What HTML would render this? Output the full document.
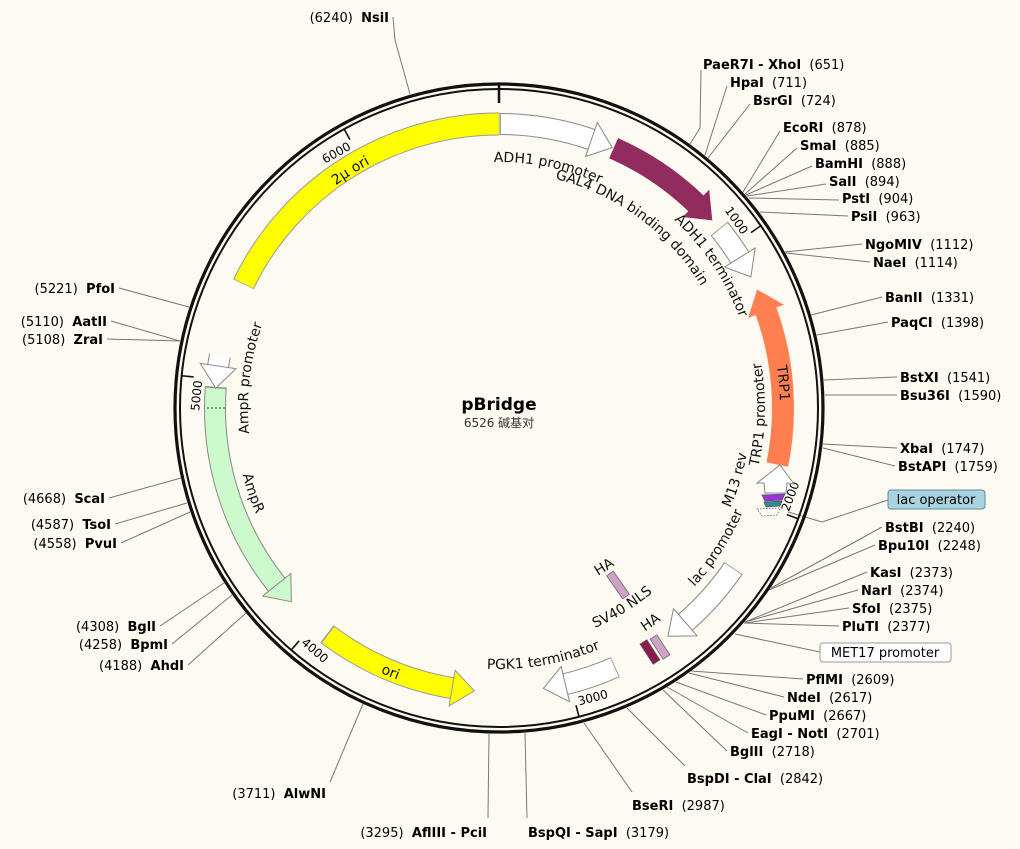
<!DOCTYPE html>
<html><head><meta charset="utf-8"><style>
html,body{margin:0;padding:0;background:#fcfaf1;}
svg{display:block;font-family:"DejaVu Sans","Liberation Sans","Noto Sans CJK SC",sans-serif;}
.lb{font-size:13px;fill:#000;}
.ln{stroke:#777;stroke-width:1;fill:none;}
.ft{font-size:14px;fill:#111;}
.tk{font-size:12px;fill:#000;}
</style></head><body>
<svg width="1020" height="849" viewBox="0 0 1020 849" xmlns="http://www.w3.org/2000/svg">
<defs>
<path id="cw276" d="M499,684 A276,276 0 1 1 499,132 A276,276 0 1 1 499,684"/>
<path id="cw246" d="M499,654 A246,246 0 1 1 499,162 A246,246 0 1 1 499,654"/>
<path id="cw236" d="M499,644 A236,236 0 1 1 499,172 A236,236 0 1 1 499,644"/>
<path id="cw257" d="M499,665 A257,257 0 1 1 499,151 A257,257 0 1 1 499,665"/>
<path id="cw281" d="M499,689 A281,281 0 1 1 499,127 A281,281 0 1 1 499,689"/>
<path id="cw251" d="M499,659 A251,251 0 1 1 499,157 A251,251 0 1 1 499,659"/>
<path id="ccw266" d="M499,142 A266,266 0 1 0 499,674 A266,266 0 1 0 499,142"/>
<path id="ccw252" d="M499,156 A252,252 0 1 0 499,660 A252,252 0 1 0 499,156"/>
<path id="ccw265" d="M499,143 A265,265 0 1 0 499,673 A265,265 0 1 0 499,143"/>
<path id="ccw195" d="M499,213 A195,195 0 1 0 499,603 A195,195 0 1 0 499,213"/>
<path id="ccw240" d="M499,168 A240,240 0 1 0 499,648 A240,240 0 1 0 499,168"/>
<path id="ccw267" d="M499,141 A267,267 0 1 0 499,675 A267,267 0 1 0 499,141"/>
<path id="ccw261" d="M499,147 A261,261 0 1 0 499,669 A261,261 0 1 0 499,147"/>
<path id="ccw290" d="M499,118 A290,290 0 1 0 499,698 A290,290 0 1 0 499,118"/>
</defs>

<g class="ln">
<polyline points="690,144 700,128 701,70"/>
<line x1="705" y1="155" x2="727" y2="86"/>
<line x1="708" y1="158" x2="750" y2="104"/>
<line x1="743" y1="192" x2="780" y2="131"/>
<line x1="745" y1="194" x2="797" y2="148"/>
<line x1="746" y1="195" x2="812" y2="166"/>
<line x1="747" y1="196" x2="826" y2="184"/>
<line x1="749" y1="198" x2="839" y2="200"/>
<line x1="760" y1="212" x2="848" y2="216"/>
<line x1="785" y1="252" x2="862" y2="244"/>
<line x1="786" y1="253" x2="870" y2="262"/>
<line x1="811" y1="315" x2="882" y2="297"/>
<line x1="817" y1="335" x2="888" y2="322"/>
<line x1="824" y1="380" x2="897" y2="377"/>
<line x1="825" y1="395" x2="897" y2="395"/>
<line x1="823" y1="444" x2="897" y2="448"/>
<line x1="823" y1="448" x2="895" y2="466"/>
<polyline points="788,512 822,522 888,500"/>
<line x1="771" y1="588" x2="882" y2="527"/>
<line x1="769" y1="590" x2="875" y2="545"/>
<line x1="745" y1="622" x2="867" y2="572"/>
<line x1="745" y1="622" x2="858" y2="590"/>
<line x1="745" y1="623" x2="849" y2="608"/>
<line x1="744" y1="623" x2="839" y2="626"/>
<line x1="735" y1="634" x2="820" y2="652"/>
<line x1="691" y1="671" x2="803" y2="679"/>
<line x1="689" y1="673" x2="784" y2="697"/>
<line x1="676" y1="682" x2="766" y2="715"/>
<line x1="667" y1="687" x2="748" y2="733"/>
<line x1="663" y1="690" x2="727" y2="751"/>
<line x1="627" y1="708" x2="685" y2="766"/>
<line x1="584" y1="723" x2="632" y2="792"/>
<line x1="525" y1="733" x2="527" y2="818"/>
<line x1="489" y1="734" x2="488" y2="818"/>
<line x1="363" y1="704" x2="330" y2="782"/>
<line x1="246" y1="613" x2="188" y2="665"/>
<line x1="232" y1="595" x2="172" y2="644"/>
<line x1="224" y1="583" x2="160" y2="626"/>
<line x1="190" y1="512" x2="121" y2="543"/>
<line x1="187" y1="503" x2="115" y2="524"/>
<line x1="181" y1="478" x2="109" y2="498"/>
<line x1="180" y1="341" x2="107" y2="339"/>
<line x1="180" y1="341" x2="111" y2="321"/>
<line x1="189" y1="307" x2="119" y2="288"/>
<polyline points="410,94 395,40 393,17"/>
</g>

<circle cx="499" cy="408" r="324" fill="none" stroke="#111" stroke-width="3.2"/>
<circle cx="499" cy="408" r="319" fill="none" stroke="#111" stroke-width="2"/>
<line x1="499" y1="84" x2="499" y2="103" stroke="#111" stroke-width="2.5"/>
<g stroke="#111" stroke-width="1.6">
<line x1="499" y1="89" x2="499" y2="101" transform="rotate(55.16 499 408)"/>
<line x1="499" y1="89" x2="499" y2="101" transform="rotate(110.32 499 408)"/>
<line x1="499" y1="89" x2="499" y2="101" transform="rotate(165.48 499 408)"/>
<line x1="499" y1="89" x2="499" y2="101" transform="rotate(220.64 499 408)"/>
<line x1="499" y1="89" x2="499" y2="101" transform="rotate(275.8 499 408)"/>
<line x1="499" y1="89" x2="499" y2="101" transform="rotate(330.96 499 408)"/>
</g>
<g class="tk">
<text x="496" y="110" text-anchor="end" transform="rotate(55.16 499 408)">1000</text>
<text x="502" y="716" text-anchor="start" transform="rotate(-69.68 499 408)">2000</text>
<text x="502" y="716" text-anchor="start" transform="rotate(-14.52 499 408)">3000</text>
<text x="502" y="716" text-anchor="start" transform="rotate(40.64 499 408)">4000</text>
<text x="496" y="110" text-anchor="end" transform="rotate(275.8 499 408)">5000</text>
<text x="496" y="110" text-anchor="end" transform="rotate(330.96 499 408)">6000</text>
</g>

<g fill="none">
<circle cx="499" cy="408" r="284" pathLength="360" stroke="#999" stroke-width="23" stroke-dasharray="64.3 400" transform="rotate(205.85 499 408)"/>
<circle cx="499" cy="408" r="284" pathLength="360" stroke="#ffff00" stroke-width="21" stroke-dasharray="64 400" transform="rotate(206 499 408)"/>
<circle cx="499" cy="408" r="284" pathLength="360" stroke="#888" stroke-width="22" stroke-dasharray="18.8 400" transform="rotate(-89.75 499 408)"/>
<circle cx="499" cy="408" r="284" pathLength="360" stroke="#fff" stroke-width="20" stroke-dasharray="18.8 400" transform="rotate(-89.6 499 408)"/>
<circle cx="499" cy="408" r="284" pathLength="360" stroke="#922b5e" stroke-width="22" stroke-dasharray="20.4 400" transform="rotate(-66.2 499 408)"/>
<circle cx="499" cy="408" r="284" pathLength="360" stroke="#888" stroke-width="22" stroke-dasharray="7.3 400" transform="rotate(-39.15 499 408)"/>
<circle cx="499" cy="408" r="284" pathLength="360" stroke="#fff" stroke-width="20" stroke-dasharray="7.3 400" transform="rotate(-39 499 408)"/>
<circle cx="499" cy="408" r="284" pathLength="360" stroke="#ff7f50" stroke-width="22" stroke-dasharray="31.5 400" transform="rotate(-20 499 408)"/>
<circle cx="499" cy="408" r="284" pathLength="360" stroke="#888" stroke-width="22" stroke-dasharray="2.3 400" transform="rotate(188.35 499 408)"/>
<circle cx="499" cy="408" r="284" pathLength="360" stroke="#fff" stroke-width="20" stroke-dasharray="2.2 400" transform="rotate(188.5 499 408)"/>
<circle cx="499" cy="408" r="284" pathLength="360" stroke="#888" stroke-width="22" stroke-dasharray="42.8 400" transform="rotate(141.5 499 408)"/>
<circle cx="499" cy="408" r="284" pathLength="360" stroke="#ccfacc" stroke-width="20" stroke-dasharray="42.5 400" transform="rotate(141.5 499 408)"/>
<circle cx="499" cy="408" r="284" pathLength="360" stroke="#999" stroke-width="22" stroke-dasharray="27.8 400" transform="rotate(99.5 499 408)"/>
<circle cx="499" cy="408" r="284" pathLength="360" stroke="#ffff00" stroke-width="20" stroke-dasharray="27.5 400" transform="rotate(99.5 499 408)"/>
<circle cx="499" cy="408" r="284" pathLength="360" stroke="#888" stroke-width="22" stroke-dasharray="10.7 400" transform="rotate(65.85 499 408)"/>
<circle cx="499" cy="408" r="284" pathLength="360" stroke="#fff" stroke-width="20" stroke-dasharray="10.5 400" transform="rotate(66 499 408)"/>
<circle cx="499" cy="408" r="284" pathLength="360" stroke="#888" stroke-width="22" stroke-dasharray="14.7 400" transform="rotate(34.35 499 408)"/>
<circle cx="499" cy="408" r="284" pathLength="360" stroke="#fff" stroke-width="20" stroke-dasharray="14.5 400" transform="rotate(34.5 499 408)"/>
</g>
<line x1="499" y1="134" x2="499" y2="114" stroke="#333" stroke-width="1" stroke-dasharray="2,2" transform="rotate(270 499 408)"/>

<g stroke-width="1">
<polygon points="499,106 521.3,124.9 499,142" fill="#fff" stroke="#888" transform="rotate(19 499 408)"/>
<polygon points="499,106 521.3,124.9 499,142" fill="#922b5e" stroke="#922b5e" transform="rotate(44 499 408)"/>
<polygon points="499,106 521.3,124.9 499,142" fill="#fff" stroke="#888" transform="rotate(58 499 408)"/>
<polygon points="499,106 476.7,124.9 499,142" fill="#ff7f50" stroke="#ff7f50" transform="rotate(70 499 408)"/>
<polygon points="499,106 476.7,124.9 499,142" fill="#fff" stroke="#888" transform="rotate(278.5 499 408)"/>
<polygon points="499,106 476.7,124.9 499,142" fill="#ccfacc" stroke="#888" transform="rotate(231.5 499 408)"/>
<polygon points="499,106 476.7,124.9 499,142" fill="#ffff00" stroke="#999" transform="rotate(189.5 499 408)"/>
<polygon points="499,106 521.3,124.9 499,142" fill="#fff" stroke="#888" transform="rotate(166.5 499 408)"/>
<polygon points="499,106 521.3,124.9 499,142" fill="#fff" stroke="#888" transform="rotate(139 499 408)"/>
</g>

<polygon points="765,493 786,493 787,483 794,484 780,465 757,483 764,483" fill="#fff" stroke="#888"/>
<polygon points="762,495 785,494 782,500 765,501" fill="#9933dd" stroke="#555" stroke-width="0.8"/>
<polygon points="764,502 782,501 780,506 766,507" fill="#338a8f" stroke="#555" stroke-width="0.8"/>
<polygon points="757,509 780,508 777,515 762,516" fill="#fff" stroke="#555" stroke-width="0.8" stroke-dasharray="1.5,1.5"/>
<rect x="604" y="581" width="28" height="8" fill="#d0a3c6" stroke="#666" stroke-width="0.8" transform="rotate(55 618 585)"/>
<rect x="638" y="648" width="24" height="8" fill="#8b1a4f" stroke="#555" stroke-width="0.8" transform="rotate(57 650 652)"/>
<rect x="648" y="643" width="24" height="8" fill="#d0a3c6" stroke="#666" stroke-width="0.8" transform="rotate(57 660 647)"/>

<g class="ft">
<text><textPath href="#cw276" startOffset="41.1%" text-anchor="middle">2µ ori</textPath></text>
<text><textPath href="#cw246" startOffset="53.2%" text-anchor="middle">ADH1 promoter</textPath></text>
<text><textPath href="#cw236" startOffset="60.1%" text-anchor="middle">GAL4 DNA binding domain</textPath></text>
<text><textPath href="#cw257" startOffset="65.6%" text-anchor="middle">ADH1 terminator</textPath></text>
<text><textPath href="#cw281" startOffset="73.6%" text-anchor="middle">TRP1</textPath></text>
<text><textPath href="#cw251" startOffset="26.9%" text-anchor="middle">AmpR promoter</textPath></text>
<text><textPath href="#ccw266" startOffset="74.6%" text-anchor="middle">TRP1 promoter</textPath></text>
<text><textPath href="#ccw252" startOffset="70.3%" text-anchor="middle">M13 rev</textPath></text>
<text><textPath href="#ccw265" startOffset="65.9%" text-anchor="middle">lac promoter</textPath></text>
<text><textPath href="#ccw195" startOffset="59.3%" text-anchor="middle">HA</textPath></text>
<text><textPath href="#ccw240" startOffset="58.8%" text-anchor="middle">SV40 NLS</textPath></text>
<text><textPath href="#ccw267" startOffset="59.8%" text-anchor="middle">HA</textPath></text>
<text><textPath href="#ccw261" startOffset="52.8%" text-anchor="middle">PGK1 terminator</textPath></text>
<text><textPath href="#ccw290" startOffset="43.8%" text-anchor="middle">ori</textPath></text>
<text><textPath href="#ccw265" startOffset="30.3%" text-anchor="middle">AmpR</textPath></text>
</g>

<text x="499" y="410" text-anchor="middle" font-size="17" font-weight="bold">pBridge</text>
<text x="499" y="427" text-anchor="middle" font-size="12" fill="#333">6526 碱基对</text>

<rect x="888" y="490" width="97" height="19" rx="3" fill="#a9d3df" stroke="#5a8f9c"/>
<text x="936" y="504" text-anchor="middle" class="lb">lac operator</text>
<rect x="820" y="643" width="131" height="19" rx="3" fill="#fff" stroke="#999"/>
<text x="885" y="657" text-anchor="middle" class="lb">MET17 promoter</text>

<g class="lb">
<text x="703" y="69"><tspan font-weight="bold">PaeR7I - XhoI</tspan>&#160; (651)</text>
<text x="730" y="87"><tspan font-weight="bold">HpaI</tspan>&#160; (711)</text>
<text x="753" y="105"><tspan font-weight="bold">BsrGI</tspan>&#160; (724)</text>
<text x="783" y="132"><tspan font-weight="bold">EcoRI</tspan>&#160; (878)</text>
<text x="800" y="150"><tspan font-weight="bold">SmaI</tspan>&#160; (885)</text>
<text x="815" y="168"><tspan font-weight="bold">BamHI</tspan>&#160; (888)</text>
<text x="829" y="186"><tspan font-weight="bold">SalI</tspan>&#160; (894)</text>
<text x="842" y="203"><tspan font-weight="bold">PstI</tspan>&#160; (904)</text>
<text x="851" y="221"><tspan font-weight="bold">PsiI</tspan>&#160; (963)</text>
<text x="865" y="249"><tspan font-weight="bold">NgoMIV</tspan>&#160; (1112)</text>
<text x="873" y="267"><tspan font-weight="bold">NaeI</tspan>&#160; (1114)</text>
<text x="885" y="302"><tspan font-weight="bold">BanII</tspan>&#160; (1331)</text>
<text x="891" y="327"><tspan font-weight="bold">PaqCI</tspan>&#160; (1398)</text>
<text x="900" y="382"><tspan font-weight="bold">BstXI</tspan>&#160; (1541)</text>
<text x="900" y="400"><tspan font-weight="bold">Bsu36I</tspan>&#160; (1590)</text>
<text x="900" y="453"><tspan font-weight="bold">XbaI</tspan>&#160; (1747)</text>
<text x="898" y="471"><tspan font-weight="bold">BstAPI</tspan>&#160; (1759)</text>
<text x="885" y="532"><tspan font-weight="bold">BstBI</tspan>&#160; (2240)</text>
<text x="878" y="550"><tspan font-weight="bold">Bpu10I</tspan>&#160; (2248)</text>
<text x="870" y="577"><tspan font-weight="bold">KasI</tspan>&#160; (2373)</text>
<text x="861" y="595"><tspan font-weight="bold">NarI</tspan>&#160; (2374)</text>
<text x="852" y="613"><tspan font-weight="bold">SfoI</tspan>&#160; (2375)</text>
<text x="842" y="631"><tspan font-weight="bold">PluTI</tspan>&#160; (2377)</text>
<text x="806" y="684"><tspan font-weight="bold">PflMI</tspan>&#160; (2609)</text>
<text x="787" y="702"><tspan font-weight="bold">NdeI</tspan>&#160; (2617)</text>
<text x="769" y="720"><tspan font-weight="bold">PpuMI</tspan>&#160; (2667)</text>
<text x="751" y="738"><tspan font-weight="bold">EagI - NotI</tspan>&#160; (2701)</text>
<text x="730" y="756"><tspan font-weight="bold">BglII</tspan>&#160; (2718)</text>
<text x="687" y="783"><tspan font-weight="bold">BspDI - ClaI</tspan>&#160; (2842)</text>
<text x="632" y="810"><tspan font-weight="bold">BseRI</tspan>&#160; (2987)</text>
<text x="528" y="837"><tspan font-weight="bold">BspQI - SapI</tspan>&#160; (3179)</text>
</g>
<g class="lb" text-anchor="end">
<text x="487" y="837">(3295)&#160; <tspan font-weight="bold">AflIII - PciI</tspan></text>
<text x="326" y="798">(3711)&#160; <tspan font-weight="bold">AlwNI</tspan></text>
<text x="184" y="670">(4188)&#160; <tspan font-weight="bold">AhdI</tspan></text>
<text x="168" y="649">(4258)&#160; <tspan font-weight="bold">BpmI</tspan></text>
<text x="156" y="631">(4308)&#160; <tspan font-weight="bold">BglI</tspan></text>
<text x="117" y="548">(4558)&#160; <tspan font-weight="bold">PvuI</tspan></text>
<text x="111" y="529">(4587)&#160; <tspan font-weight="bold">TsoI</tspan></text>
<text x="105" y="503">(4668)&#160; <tspan font-weight="bold">ScaI</tspan></text>
<text x="103" y="344">(5108)&#160; <tspan font-weight="bold">ZraI</tspan></text>
<text x="107" y="326">(5110)&#160; <tspan font-weight="bold">AatII</tspan></text>
<text x="115" y="293">(5221)&#160; <tspan font-weight="bold">PfoI</tspan></text>
<text x="389" y="22">(6240)&#160; <tspan font-weight="bold">NsiI</tspan></text>
</g>
</svg>
</body></html>
